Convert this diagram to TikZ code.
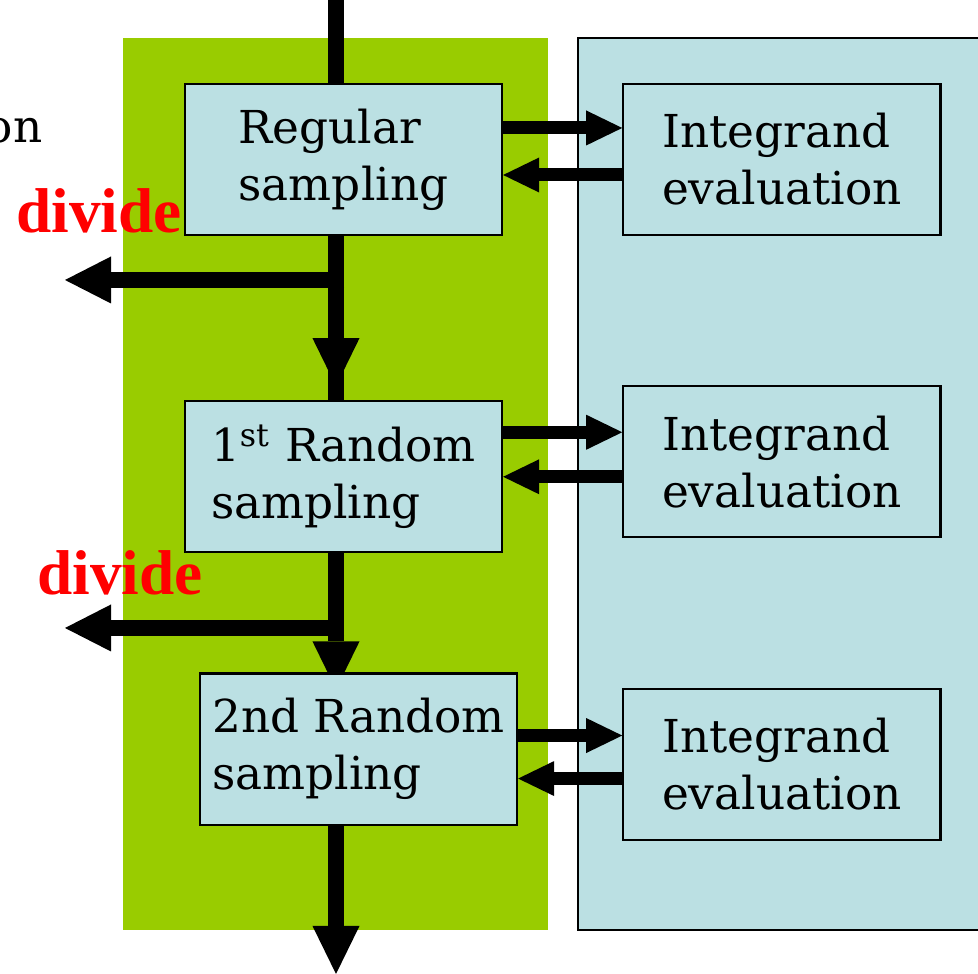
\documentclass[tikz,border=0pt]{standalone}
\usepackage{fontspec}
\setmainfont{DejaVu Serif}
\newfontfamily\labelfont{Liberation Serif}
\usepackage{tikz}
\usetikzlibrary{arrows.meta, positioning, calc, backgrounds}
\definecolor{leafgreen}{RGB}{153,204,0}
\definecolor{paleblue}{RGB}{187,224,227}
\definecolor{dividered}{RGB}{255,0,0}
\tikzset{
  sampler/.style={
    rectangle, minimum width=3.17cm, minimum height=1.51cm, inner sep=0pt,
    draw=black, line width=0.6pt, fill=paleblue, align=left,
    font=\fontsize{12.9}{16.2}\selectfont
  },
  evalbox/.style={sampler},
  trunk/.style={line width=0.16cm, color=black},
  trunkarrow/.style={trunk, -{Triangle[length=0.48cm, width=0.47cm, line width=0pt]}},
  branch/.style={trunk, -{Triangle[length=0.46cm, width=0.47cm, line width=0pt]}},
  flow/.style={-{Triangle[length=0.36cm, width=0.35cm, line width=0pt]},
    line width=0.13cm, color=black},
  dividelabel/.style={font=\labelfont\bfseries\fontsize{18}{20}\selectfont,
    text=dividered, inner sep=0pt}
}
\begin{document}
\begin{tikzpicture}[x=0.01cm, y=-0.01cm]
  \useasboundingbox (0,0) rectangle (978,974);

  % Panels
  \begin{scope}[on background layer]
    \fill[leafgreen] (123,38) rectangle (548,930);
    \filldraw[fill=paleblue, draw=black, line width=0.6pt] (578,38) rectangle (1000,930);
  \end{scope}

  % Sampling stages
  \node[sampler] (reg) at (343.5,159.5) {Regular\\sampling};
  \node[sampler, below=1.64cm of reg] (rnd1) {1\textsuperscript{st} Random\\sampling};
  \node[sampler, below=1.19cm of rnd1, xshift=0.15cm] (rnd2) {2nd Random\\sampling};

  % Integrand evaluation
  \node[evalbox, right=1.19cm of reg] (eval1) {Integrand\\evaluation};
  \node[evalbox, right=1.19cm of rnd1, yshift=0.15cm] (eval2) {Integrand\\evaluation};
  \node[evalbox, right=1.04cm of rnd2, yshift=-0.155cm] (eval3) {Integrand\\evaluation};

  % Main flow
  \coordinate (inflow) at (336,0);
  \coordinate (outflow) at (336,974);
  \begin{scope}[on background layer]
    \draw[trunk] (inflow) -- (inflow |- reg.north);
    \draw[trunk] (inflow |- reg.south) -- (inflow |- rnd1.north);
    \draw[trunkarrow] (inflow |- reg.south) -- ($(inflow |- rnd1.north)+(0,-14)$);
    \draw[trunkarrow] (inflow |- rnd1.south) -- ($(inflow |- rnd2.north)+(0,17)$);
    \draw[trunkarrow] (inflow |- rnd2.south) -- (outflow);
  \end{scope}

  % Divide branches
  \coordinate (split1) at (344,280);
  \coordinate (left1) at (65,280);
  \coordinate (split2) at (344,628);
  \coordinate (left2) at (65,628);
  \draw[branch] (split1) -- (left1);
  \draw[branch] (split2) -- (left2);
  \node[dividelabel] (div1) at (99,211) {divide};
  \node[dividelabel] (div2) at (120,573) {divide};
  \node[anchor=base east, inner sep=0pt, font=\fontsize{12.9}{16.2}\selectfont] (cut) at (43,143) {on};

  % Requests and results
  \draw[flow] ([yshift=0.315cm]reg.east) -- ([yshift=0.315cm]reg.east -| eval1.west);
  \draw[flow] ([yshift=-0.155cm]reg.east -| eval1.west) -- ([yshift=-0.155cm]reg.east);
  \draw[flow] ([yshift=0.445cm]rnd1.east) -- ([yshift=0.445cm]rnd1.east -| eval2.west);
  \draw[flow] (rnd1.east -| eval2.west) -- (rnd1.east);
  \draw[flow] ([yshift=0.135cm]rnd2.east) -- ([yshift=0.135cm]rnd2.east -| eval3.west);
  \draw[flow] ([yshift=-0.295cm]rnd2.east -| eval3.west) -- ([yshift=-0.295cm]rnd2.east);
\end{tikzpicture}
\end{document}
